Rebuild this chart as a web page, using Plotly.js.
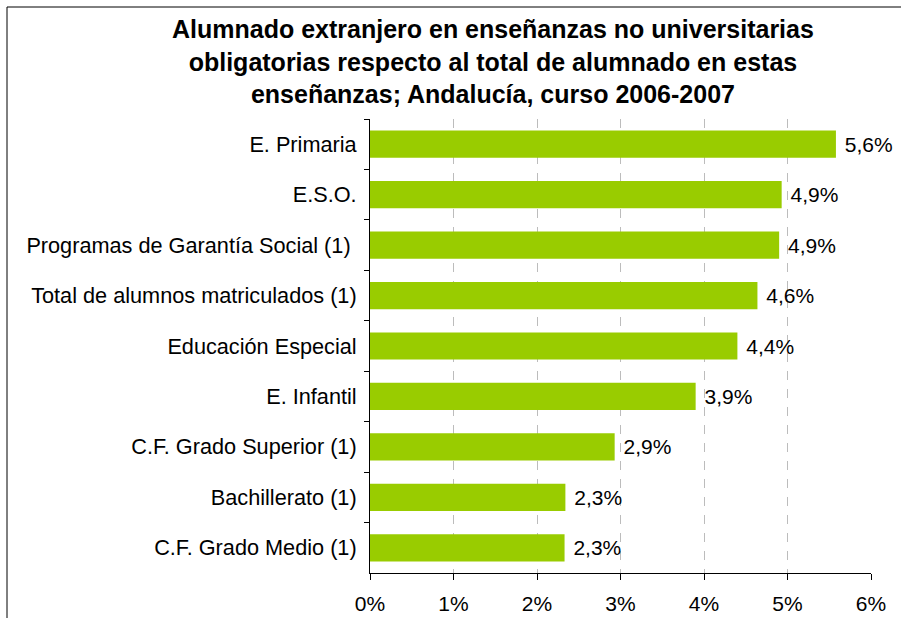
<!DOCTYPE html>
<html>
<head>
<meta charset="utf-8">
<script src="https://cdn.plot.ly/plotly-3.0.1.min.js"></script>
<style>
html,body{margin:0;padding:0;background:#fff;}
#chart{width:901px;height:618px;}
</style>
</head>
<body>
<div id="chart"></div>
<script>
var categories = [
  "E. Primaria",
  "E.S.O.",
  "Programas de Garantía Social (1)\u00a0",
  "Total de alumnos matriculados (1)",
  "Educación Especial",
  "E. Infantil",
  "C.F. Grado Superior (1)",
  "Bachillerato (1)",
  "C.F. Grado Medio (1)"
];
var values = [5.58, 4.93, 4.90, 4.64, 4.40, 3.90, 2.93, 2.34, 2.33];
var tickVals = [0, 1, 2, 3, 4, 5, 6];
var tickText = ["0%", "1%", "2%", "3%", "4%", "5%", "6%"];
var titleText = "<b>Alumnado extranjero en enseñanzas no universitarias<br>obligatorias respecto al total de alumnado en estas<br>enseñanzas; Andalucía, curso 2006-2007</b>";

var ML = 370, MR = 30, MT = 119, MB = 45, W = 901, H = 618;
var pw = W - ML - MR, ph = H - MT - MB;
var FONT = "Liberation Sans, Arial, sans-serif";

var trace = {
  type: "bar",
  orientation: "h",
  y: categories,
  x: values,
  marker: {color: "#99CC00", line: {width: 0}},
  width: 0.54,
  texttemplate: " %{x:.1f}%",
  textposition: "outside",
  cliponaxis: false,
  textfont: {family: FONT, size: 21, color: "#000"},
  hoverinfo: "none"
};

var layout = {
  width: W, height: H,
  margin: {l: ML, r: MR, t: MT, b: MB, pad: 0},
  paper_bgcolor: "#fff",
  plot_bgcolor: "#fff",
  separators: ",.",
  showlegend: false,
  font: {family: FONT, size: 21, color: "#000"},
  xaxis: {
    range: [0, 6],
    tickmode: "array",
    tickvals: tickVals,
    ticktext: tickText,
    showgrid: true,
    gridcolor: "#bcbcbc",
    griddash: "dash",
    gridwidth: 1,
    zeroline: false,
    showline: true,
    linecolor: "#000",
    linewidth: 1,
    ticks: "outside",
    ticklen: 6,
    tickcolor: "#000",
    tickfont: {size: 21},
    ticklabelstandoff: 6,
    fixedrange: true
  },
  yaxis: {
    type: "category",
    autorange: "reversed",
    showline: true,
    linecolor: "#000",
    linewidth: 1,
    ticks: "outside",
    tickson: "boundaries",
    ticklen: 5,
    tickcolor: "#000",
    showgrid: false,
    tickfont: {size: 21.7},
    ticklabelstandoff: 8,
    fixedrange: true
  },
  annotations: [{
    text: titleText,
    xref: "paper", yref: "paper",
    x: (493 - ML) / pw, xanchor: "center",
    y: 1 + (MT - 13) / ph, yanchor: "top",
    showarrow: false,
    align: "center",
    font: {family: FONT, size: 25, color: "#000"}
  }],
  shapes: [{
    type: "rect",
    xref: "paper", yref: "paper",
    x0: (7 - ML) / pw, x1: (W + 20 - ML) / pw,
    y0: -(H + 20 - MT - ph) / ph, y1: 1 + (MT - 7) / ph,
    line: {color: "#000", width: 1},
    fillcolor: "rgba(0,0,0,0)",
    layer: "below"
  }]
};

Plotly.newPlot("chart", [trace], layout, {displayModeBar: false, staticPlot: true});
</script>
</body>
</html>
